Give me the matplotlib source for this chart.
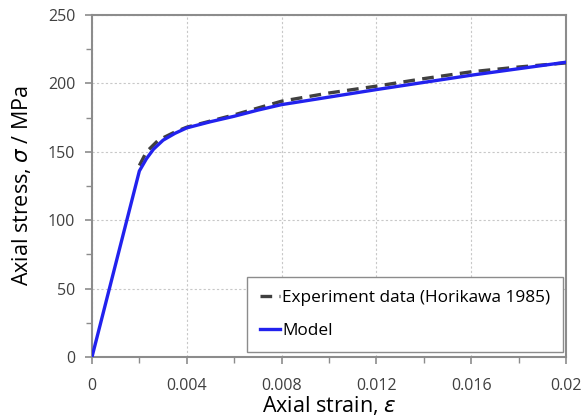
import matplotlib.pyplot as plt
from matplotlib.ticker import MultipleLocator, FormatStrFormatter

plt.rcParams['font.family'] = ['Open Sans', 'DejaVu Sans']
plt.rcParams['mathtext.fontset'] = 'dejavusans'

# experiment data (Horikawa 1985)
exp_strain = [0.0020, 0.0023, 0.0028, 0.0035, 0.0040, 0.0050, 0.0060, 0.0070,
              0.0080, 0.0100, 0.0120, 0.0140, 0.0160, 0.0180, 0.0200]
exp_stress = [140, 150, 158.5, 164.5, 168, 172.5, 177, 182,
              187, 193, 198, 203.5, 208.5, 212, 215]

# model
mod_strain = [0.0, 0.0020, 0.0023, 0.0026, 0.0030, 0.0035, 0.0040, 0.0050,
              0.0060, 0.0070, 0.0080, 0.0120, 0.0160, 0.0200]
mod_stress = [0, 136, 145, 152, 158.5, 163.5, 167.5, 172,
              176, 180.5, 184.5, 195.5, 206, 215.5]

fig = plt.figure(figsize=(5.84, 4.18), dpi=100)
ax = fig.add_axes([0.1575, 0.146, 0.8115, 0.818])

ax.plot(exp_strain, exp_stress, color='#404040', lw=2.4, dashes=(3.5, 2.2),
        label='Experiment data (Horikawa 1985)', zorder=3)
ax.plot(mod_strain, mod_stress, color='#2222ee', lw=2.4, label='Model', zorder=4)

ax.set_xlim(0, 0.02)
ax.set_ylim(0, 250)
ax.xaxis.set_major_locator(MultipleLocator(0.004))
ax.xaxis.set_minor_locator(MultipleLocator(0.002))
ax.yaxis.set_major_locator(MultipleLocator(50))
ax.yaxis.set_minor_locator(MultipleLocator(25))
ax.xaxis.set_major_formatter(FormatStrFormatter('%g'))

ax.grid(True, which='major', color='#c8c8c8', ls=(0, (2, 2)), lw=0.8)
for s in ax.spines.values():
    s.set_color('#8c8c8c')
    s.set_linewidth(1.5)
ax.tick_params(which='both', direction='out', color='#8c8c8c', labelcolor='#404040',
               labelsize=11.5)
ax.tick_params(which='major', length=5, width=1.2)
ax.tick_params(which='minor', length=4, width=1)
ax.tick_params(axis='x', which='major', pad=10)
ax.tick_params(axis='y', which='major', pad=7)

ax.set_xlabel(r'Axial strain, $\varepsilon$', fontsize=15.5, labelpad=0)
ax.set_ylabel(r'Axial stress, $\sigma$ / MPa', fontsize=15.5, labelpad=11)

leg = ax.legend(loc='lower right', fontsize=12.4, frameon=True, fancybox=False,
                edgecolor='#8c8c8c', handlelength=1.2, handletextpad=0.1,
                labelspacing=1.0, borderpad=0.75, borderaxespad=0,
                bbox_to_anchor=(0.994, 0.015))
leg.get_frame().set_linewidth(1.0)
leg.get_frame().set_alpha(1)

fig.savefig('out.png', dpi=100)
